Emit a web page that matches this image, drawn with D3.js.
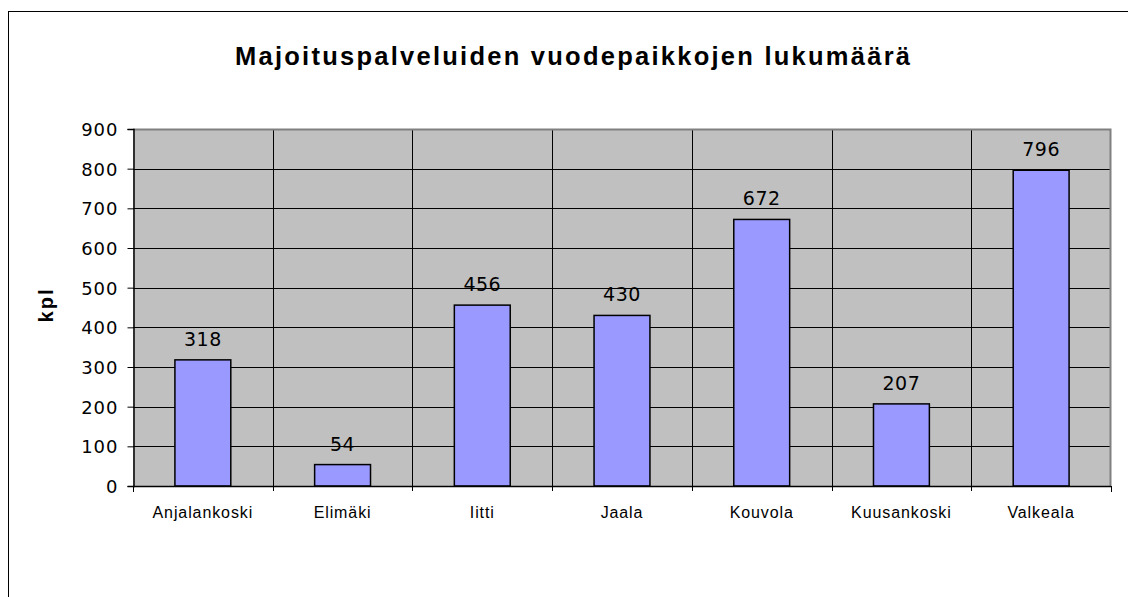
<!DOCTYPE html>
<html>
<head>
<meta charset="utf-8">
<script src="https://cdn.jsdelivr.net/npm/d3@7/dist/d3.min.js"></script>
<style>
  html, body { margin: 0; padding: 0; background: #fff; }
  svg { display: block; }
</style>
</head>
<body>
<svg id="chart" width="1128" height="597"></svg>
<script>
const title = "Majoituspalveluiden vuodepaikkojen lukumäärä";
const yLabel = "kpl";
const categories = ["Anjalankoski", "Elimäki", "Iitti", "Jaala", "Kouvola", "Kuusankoski", "Valkeala"];
const values = [318, 54, 456, 430, 672, 207, 796];
const yTicks = [0, 100, 200, 300, 400, 500, 600, 700, 800, 900];

const svg = d3.select("#chart");
const plot = { left: 133, right: 1111, top: 129, bottom: 486 };

// outer chart border (right and bottom sides fall outside the view)
svg.append("rect")
  .attr("x", 8.5).attr("y", 11.5)
  .attr("width", 1130).attr("height", 600)
  .attr("fill", "#fff").attr("stroke", "#000").attr("stroke-width", 1);

const x = d3.scaleBand()
  .domain(categories)
  .range([plot.left, plot.right])
  .paddingInner(0.6)
  .paddingOuter(0.3);

const y = d3.scaleLinear()
  .domain([0, 900])
  .range([plot.bottom, plot.top]);

// plot background
svg.append("rect")
  .attr("x", plot.left).attr("y", plot.top)
  .attr("width", plot.right - plot.left).attr("height", plot.bottom - plot.top)
  .attr("fill", "#C0C0C0");

// horizontal gridlines
svg.append("g").selectAll("line")
  .data(yTicks.filter(d => d > 0 && d < 900))
  .join("line")
  .attr("x1", plot.left).attr("x2", plot.right)
  .attr("y1", d => Math.round(y(d)) + 0.5).attr("y2", d => Math.round(y(d)) + 0.5)
  .attr("stroke", "#000").attr("stroke-width", 1);

// vertical gridlines at category boundaries
const boundaries = d3.range(1, categories.length).map(i => plot.left + i * x.step());
svg.append("g").selectAll("line")
  .data(boundaries)
  .join("line")
  .attr("x1", d => Math.round(d) + 0.5).attr("x2", d => Math.round(d) + 0.5)
  .attr("y1", plot.top).attr("y2", plot.bottom + 5)
  .attr("stroke", "#000").attr("stroke-width", 1);

// top & right border of plot (gray)
svg.append("path")
  .attr("d", `M${plot.left},${plot.top + 0.5}H${plot.right - 0.5}V${plot.bottom}`)
  .attr("fill", "none").attr("stroke", "#808080").attr("stroke-width", 2);

// bars
svg.append("g").selectAll("rect")
  .data(values)
  .join("rect")
  .attr("x", (d, i) => x(categories[i]))
  .attr("y", d => y(d))
  .attr("width", x.bandwidth())
  .attr("height", d => plot.bottom - y(d))
  .attr("fill", "#9999FF")
  .attr("stroke", "#000")
  .attr("stroke-width", 1.5);

// y axis
const yAxis = d3.axisLeft(y).tickValues(yTicks).tickSize(6).tickPadding(9).tickFormat(d3.format("d"));
const gy = svg.append("g").attr("transform", `translate(${plot.left + 0.5},0)`).call(yAxis);
gy.select(".domain").attr("stroke", "#000").attr("stroke-width", 1.5);
gy.selectAll(".tick line").attr("stroke", "#000");
gy.selectAll(".tick text")
  .attr("font-family", "DejaVu Sans, Verdana, sans-serif")
  .attr("font-size", 18).attr("letter-spacing", 1)
  .attr("fill", "#000").attr("dy", "0.36em");

// x axis line + ticks at ends
svg.append("line")
  .attr("x1", plot.left).attr("x2", plot.right)
  .attr("y1", plot.bottom + 0.5).attr("y2", plot.bottom + 0.5)
  .attr("stroke", "#000").attr("stroke-width", 1.5);
svg.append("g").selectAll("line")
  .data([plot.left, plot.right])
  .join("line")
  .attr("x1", d => d + 0.5).attr("x2", d => d + 0.5)
  .attr("y1", plot.bottom).attr("y2", plot.bottom + 6)
  .attr("stroke", "#000").attr("stroke-width", 1);

// category labels
svg.append("g").selectAll("text")
  .data(categories)
  .join("text")
  .attr("x", d => x(d) + x.bandwidth() / 2)
  .attr("y", 518)
  .attr("text-anchor", "middle")
  .attr("font-family", "Liberation Sans, Arial, sans-serif")
  .attr("font-size", 16)
  .attr("letter-spacing", 0.9)
  .attr("fill", "#000")
  .text(d => d);

// data labels
svg.append("g").selectAll("text")
  .data(values)
  .join("text")
  .attr("x", (d, i) => x(categories[i]) + x.bandwidth() / 2)
  .attr("y", d => y(d) - 14)
  .attr("text-anchor", "middle")
  .attr("font-family", "DejaVu Sans, Verdana, sans-serif")
  .attr("font-size", 19)
  .attr("letter-spacing", 0.5)
  .attr("fill", "#000")
  .text(d => d);

// title
svg.append("text")
  .attr("x", 572.5).attr("y", 65)
  .attr("text-anchor", "middle")
  .attr("font-family", "Liberation Sans, Arial, sans-serif")
  .attr("font-weight", "bold")
  .attr("font-size", 25.5)
  .attr("textLength", 675)
  .attr("lengthAdjust", "spacing")
  .attr("fill", "#000")
  .text(title);

// y label
svg.append("text")
  .attr("transform", "translate(53,305) rotate(-90)")
  .attr("text-anchor", "middle")
  .attr("font-family", "Liberation Sans, Arial, sans-serif")
  .attr("font-weight", "bold")
  .attr("font-size", 20)
  .attr("letter-spacing", 2)
  .attr("fill", "#000")
  .text(yLabel);
</script>
</body>
</html>
